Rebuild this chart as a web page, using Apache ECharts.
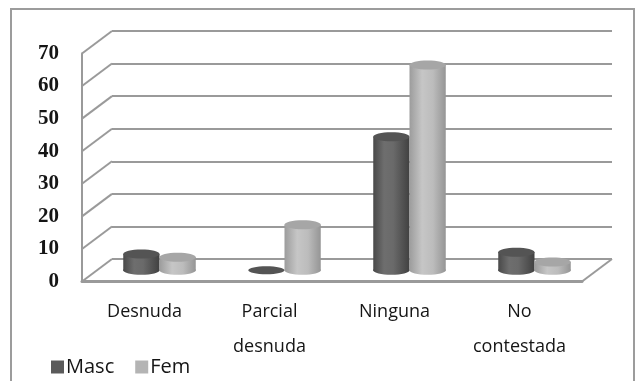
<!DOCTYPE html>
<html>
<head>
<meta charset="utf-8">
<script src="https://cdn.jsdelivr.net/npm/echarts@6/dist/echarts.min.js"></script>
<style>
  html, body { margin: 0; padding: 0; background: #ffffff; }
  #chart { width: 636px; height: 381px; }
</style>
</head>
<body>
<div id="chart"></div>
<script>
// Categories and series values
const categories = ['Desnuda', 'Parcial\ndesnuda', 'Ninguna', 'No\ncontestada'];
const masc = [5, 0, 41, 5.5];
const fem = [4, 14, 63, 2.5];
// Value axis ticks
const yMin = 0;
const yMax = 70;
const yStep = 10;
const yTicks = [0, 10, 20, 30, 40, 50, 60, 70];

// Oblique 3D layout: back wall plane and the depth shift toward the viewer
const BACK = { left: 112, right: 24, top: 31, bottom: 122 };
const DEPTH = { dx: 30, dy: 22.5 };
function plane(f) {
  return {
    left: BACK.left - DEPTH.dx * f,
    right: BACK.right + DEPTH.dx * f,
    top: BACK.top + DEPTH.dy * f,
    bottom: BACK.bottom - DEPTH.dy * f,
    containLabel: false
  };
}

const WALL = '#9a9a9a';
const TEXT = '#151515';

const palettes = {
  masc: {
    legend: '#5a5a5a',
    top: '#545454',
    stops: [[0, '#494949'], [0.3, '#6e6e6e'], [0.55, '#6a6a6a'], [1, '#414141']]
  },
  fem: {
    legend: '#b4b4b4',
    top: '#a6a6a6',
    stops: [[0, '#9c9c9c'], [0.35, '#c6c6c6'], [0.65, '#bcbcbc'], [1, '#959595']]
  }
};

// Cylinder drawn in the middle depth plane; side = -1 (left of band centre) or +1
function cylinder(pal, side) {
  return function (params, api) {
    const cat = api.value(0);
    const val = api.value(1);
    const top = api.coord([cat, val]);
    const base = api.coord([cat, 0]);
    const band = api.size([1, 0])[0];
    const w = band * 0.29;
    const rx = w / 2;
    const ry = 4.5;
    const cx = top[0] + side * w / 2;
    const grad = new echarts.graphic.LinearGradient(0, 0, 1, 0,
      pal.stops.map(s => ({ offset: s[0], color: s[1] })));
    const children = [];
    if (val > 0) {
      children.push({ type: 'ellipse', shape: { cx: cx, cy: base[1], rx: rx, ry: ry }, style: { fill: grad } });
      children.push({ type: 'rect', shape: { x: cx - rx, y: top[1], width: w, height: base[1] - top[1] }, style: { fill: grad } });
      children.push({ type: 'ellipse', shape: { cx: cx, cy: top[1], rx: rx, ry: ry }, style: { fill: pal.top } });
    } else {
      children.push({ type: 'ellipse', shape: { cx: cx, cy: base[1], rx: rx, ry: ry * 0.9 }, style: { fill: pal.top } });
    }
    return { type: 'group', children: children };
  };
}

// Side wall diagonals (one per tick) and the floor's right edge, in the back plane
function walls(params, api) {
  const v = api.value(1);
  const p = api.coord([0, v]);
  const cs = params.coordSys;
  const x0 = cs.x;
  const children = [{
    type: 'line',
    shape: { x1: x0, y1: p[1], x2: x0 - DEPTH.dx, y2: p[1] + DEPTH.dy },
    style: { stroke: WALL, lineWidth: 2 }
  }];
  if (v === yMin) {
    const x1 = cs.x + cs.width;
    children.push({
      type: 'line',
      shape: { x1: x1, y1: p[1], x2: x1 - DEPTH.dx, y2: p[1] + DEPTH.dy },
      style: { stroke: WALL, lineWidth: 2 }
    });
  }
  return { type: 'group', children: children };
}

const chart = echarts.init(document.getElementById('chart'), null, { renderer: 'canvas' });

const valueAxisBase = { type: 'value', min: yMin, max: yMax, interval: yStep };

chart.setOption({
  backgroundColor: '#ffffff',
  animation: false,
  graphic: [{
    type: 'rect',
    shape: { x: 11, y: 9, width: 623, height: 420 },
    style: { fill: 'none', stroke: '#9c9c9c', lineWidth: 2 },
    silent: true,
    z: -1
  }],
  grid: [plane(0), plane(1), plane(0.5)],
  legend: {
    data: ['Masc', 'Fem'],
    left: 46,
    top: 352,
    icon: 'rect',
    itemWidth: 13,
    itemHeight: 13,
    itemGap: 21,
    textStyle: { fontFamily: 'Open Sans', fontSize: 20, color: TEXT, padding: [0, 0, 0, -3] }
  },
  xAxis: [
    { gridIndex: 0, type: 'category', data: categories, show: false },
    {
      gridIndex: 1, type: 'category', data: categories,
      axisLine: { show: true, lineStyle: { color: WALL, width: 3 } },
      axisTick: { show: false },
      axisLabel: {
        interval: 0, margin: 13, color: TEXT,
        fontFamily: 'Open Sans', fontSize: 18, lineHeight: 35
      }
    },
    { gridIndex: 2, type: 'category', data: categories, show: false }
  ],
  yAxis: [
    Object.assign({ gridIndex: 0 }, valueAxisBase, {
      axisLine: { show: false }, axisTick: { show: false }, axisLabel: { show: false },
      splitLine: { show: true, lineStyle: { color: WALL, width: 2 } }
    }),
    Object.assign({ gridIndex: 1 }, valueAxisBase, {
      axisLine: { show: true, lineStyle: { color: WALL, width: 2 } },
      axisTick: { show: false },
      splitLine: { show: false },
      axisLabel: {
        margin: 23, color: TEXT,
        fontFamily: 'Liberation Serif', fontWeight: 'bold', fontSize: 21
      }
    }),
    Object.assign({ gridIndex: 2 }, valueAxisBase, { show: false, splitLine: { show: false } })
  ],
  series: [
    {
      type: 'custom', name: 'walls', xAxisIndex: 0, yAxisIndex: 0,
      renderItem: walls, silent: true,
      data: yTicks.map(v => [0, v]), z: 1
    },
    {
      type: 'custom', name: 'Masc', xAxisIndex: 2, yAxisIndex: 2,
      itemStyle: { color: palettes.masc.legend },
      renderItem: cylinder(palettes.masc, -1),
      data: masc.map((v, i) => [i, v]), z: 3
    },
    {
      type: 'custom', name: 'Fem', xAxisIndex: 2, yAxisIndex: 2,
      itemStyle: { color: palettes.fem.legend },
      renderItem: cylinder(palettes.fem, 1),
      data: fem.map((v, i) => [i, v]), z: 3
    }
  ]
});
</script>
</body>
</html>
